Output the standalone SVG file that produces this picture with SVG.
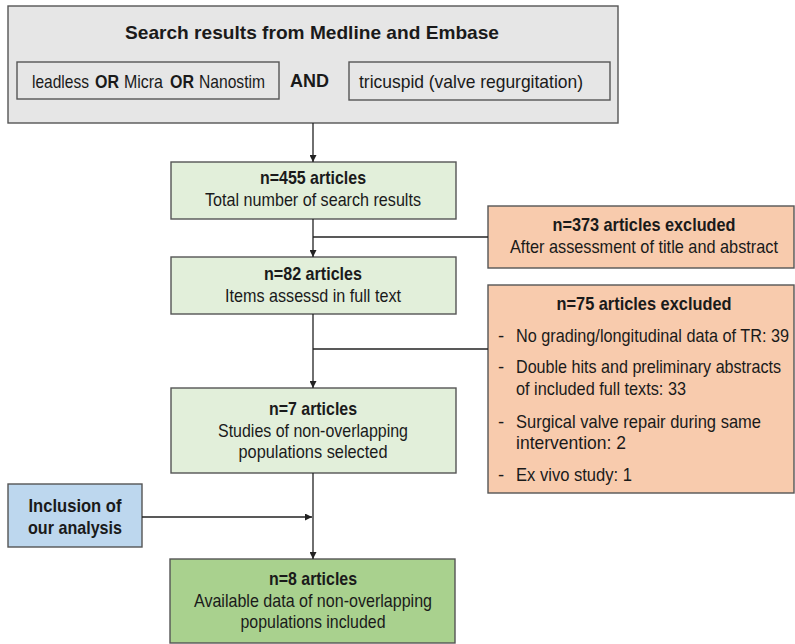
<svg xmlns="http://www.w3.org/2000/svg" width="795" height="644" viewBox="0 0 795 644">
<defs>
<marker id="arr" viewBox="0 0 10 10" refX="10" refY="5" markerWidth="7" markerHeight="7" markerUnits="userSpaceOnUse" orient="auto">
<path d="M0,0 L10,5 L0,10 z" fill="#222"/>
</marker>
<style>
.box{stroke:#555;stroke-width:1.4}
.t{font-family:"Liberation Sans",Arial,sans-serif;font-size:18.5px;fill:#1a1a1a}
.b{font-weight:bold}
.c{text-anchor:middle}
.ln{stroke:#222;stroke-width:1.3;fill:none}
</style>
</defs>
<g id="search">
<rect class="box" x="8" y="6" width="610" height="117" fill="#e6e6e6"/>
<text class="t b c" x="312" y="39" font-size="19.5" textLength="374" lengthAdjust="spacingAndGlyphs">Search results from Medline and Embase</text>
<rect class="box" x="17" y="62" width="262" height="37" fill="#e6e6e6"/>
<text class="t" x="32" y="88" font-size="17" textLength="57" lengthAdjust="spacingAndGlyphs">leadless</text>
<text class="t b" x="95" y="88" font-size="17" textLength="24" lengthAdjust="spacingAndGlyphs">OR</text>
<text class="t" x="124" y="88" font-size="17" textLength="39" lengthAdjust="spacingAndGlyphs">Micra</text>
<text class="t b" x="170" y="88" font-size="17" textLength="24" lengthAdjust="spacingAndGlyphs">OR</text>
<text class="t" x="199" y="88" font-size="17" textLength="66" lengthAdjust="spacingAndGlyphs">Nanostim</text>
<text class="t b" x="290" y="87" font-size="17.5" textLength="39" lengthAdjust="spacingAndGlyphs">AND</text>
<rect class="box" x="349" y="62" width="261" height="38" fill="#e6e6e6"/>
<text class="t" x="359" y="88" font-size="17" textLength="224" lengthAdjust="spacingAndGlyphs">tricuspid (valve regurgitation)</text>
</g>
<g id="n455">
<rect class="box" x="171" y="162" width="285" height="57" fill="#e2efda"/>
<text class="t b c" x="313" y="184" textLength="106" lengthAdjust="spacingAndGlyphs">n=455 articles</text>
<text class="t c" x="313" y="206" textLength="216" lengthAdjust="spacingAndGlyphs">Total number of search results</text>
</g>
<g id="excl373">
<rect class="box" x="488" y="206" width="306" height="62" fill="#f8cbad"/>
<text class="t b c" x="644" y="231" textLength="183" lengthAdjust="spacingAndGlyphs">n=373 articles excluded</text>
<text class="t c" x="644" y="253" textLength="268" lengthAdjust="spacingAndGlyphs">After assessment of title and abstract</text>
</g>
<g id="n82">
<rect class="box" x="171" y="257" width="285" height="57" fill="#e2efda"/>
<text class="t b c" x="313" y="280" textLength="98" lengthAdjust="spacingAndGlyphs">n=82 articles</text>
<text class="t c" x="313" y="302" textLength="176" lengthAdjust="spacingAndGlyphs">Items assessd in full text</text>
</g>
<g id="excl75">
<rect class="box" x="488" y="285" width="306" height="208" fill="#f8cbad"/>
<text class="t b c" x="644" y="310" textLength="175" lengthAdjust="spacingAndGlyphs">n=75 articles excluded</text>
<text class="t" x="498" y="342">-</text>
<text class="t" x="516" y="342" textLength="273" lengthAdjust="spacingAndGlyphs">No grading/longitudinal data of TR: 39</text>
<text class="t" x="498" y="373">-</text>
<text class="t" x="516" y="373" textLength="265" lengthAdjust="spacingAndGlyphs">Double hits and preliminary abstracts</text>
<text class="t" x="516" y="395" textLength="170" lengthAdjust="spacingAndGlyphs">of included full texts: 33</text>
<text class="t" x="498" y="428">-</text>
<text class="t" x="516" y="428" textLength="245" lengthAdjust="spacingAndGlyphs">Surgical valve repair during same</text>
<text class="t" x="516" y="449" textLength="110" lengthAdjust="spacingAndGlyphs">intervention: 2</text>
<text class="t" x="498" y="481">-</text>
<text class="t" x="516" y="481" textLength="116" lengthAdjust="spacingAndGlyphs">Ex vivo study: 1</text>
</g>
<g id="n7">
<rect class="box" x="171" y="388" width="285" height="85" fill="#e2efda"/>
<text class="t b c" x="313" y="415" textLength="88" lengthAdjust="spacingAndGlyphs">n=7 articles</text>
<text class="t c" x="313" y="437" textLength="190" lengthAdjust="spacingAndGlyphs">Studies of non-overlapping</text>
<text class="t c" x="313" y="458" textLength="149" lengthAdjust="spacingAndGlyphs">populations selected</text>
</g>
<g id="ours">
<rect class="box" x="8" y="484" width="134" height="63" fill="#bdd7ee"/>
<text class="t b c" x="75" y="512" textLength="93" lengthAdjust="spacingAndGlyphs">Inclusion of</text>
<text class="t b c" x="75" y="534" textLength="94" lengthAdjust="spacingAndGlyphs">our analysis</text>
</g>
<g id="n8">
<rect class="box" x="170" y="559" width="285" height="84" fill="#a9d18e"/>
<text class="t b c" x="313" y="585" textLength="88" lengthAdjust="spacingAndGlyphs">n=8 articles</text>
<text class="t c" x="313" y="607" textLength="238" lengthAdjust="spacingAndGlyphs">Available data of non-overlapping</text>
<text class="t c" x="313" y="628" textLength="145" lengthAdjust="spacingAndGlyphs">populations included</text>
</g>
<g id="connectors">
<line class="ln" x1="313" y1="123" x2="313" y2="162" marker-end="url(#arr)"/>
<line class="ln" x1="313" y1="219" x2="313" y2="257" marker-end="url(#arr)"/>
<line class="ln" x1="313" y1="237" x2="488" y2="237"/>
<line class="ln" x1="313" y1="314" x2="313" y2="388" marker-end="url(#arr)"/>
<line class="ln" x1="313" y1="349" x2="488" y2="349"/>
<line class="ln" x1="313" y1="473" x2="313" y2="559" marker-end="url(#arr)"/>
<line class="ln" x1="142" y1="517" x2="312" y2="517" marker-end="url(#arr)"/>
</g>
</svg>
